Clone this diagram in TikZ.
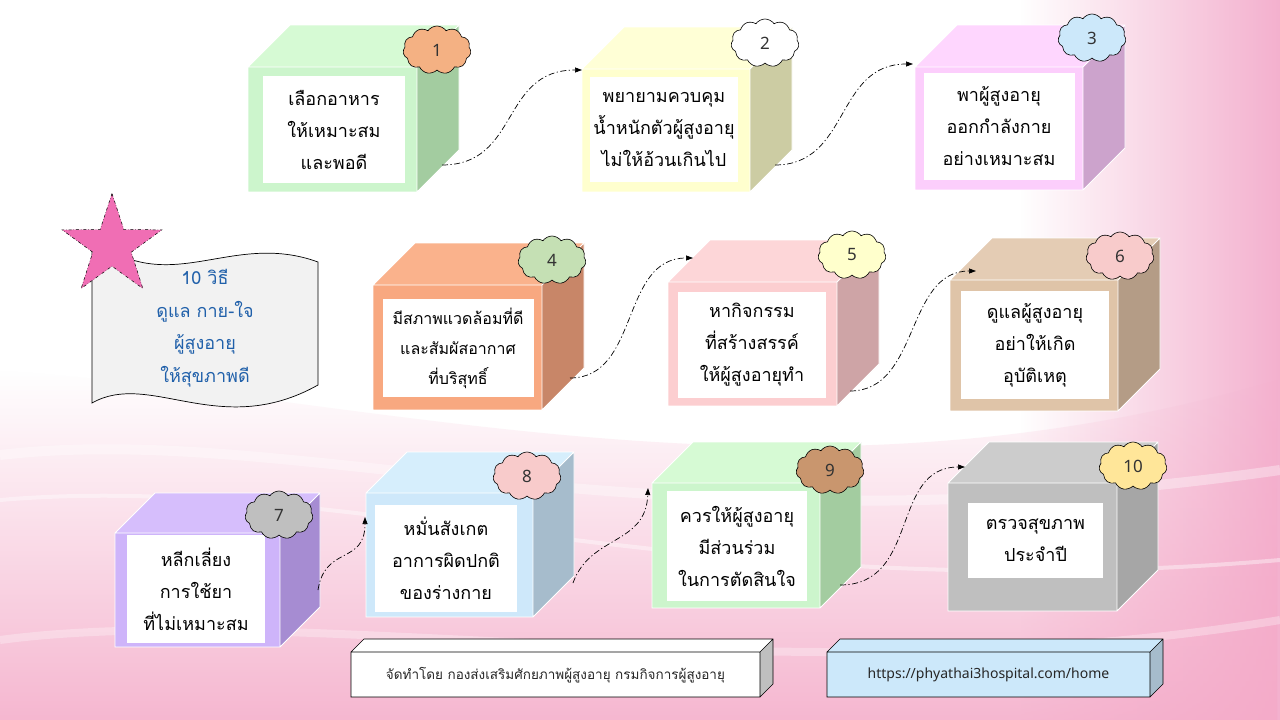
\documentclass[tikz,border=0pt]{standalone}
\usepackage{fontspec}
\newfontfamily\thai[Script=Thai]{Loma}
\newfontfamily\numf{Noto Sans}
\usetikzlibrary{shapes.symbols,shapes.geometric,arrows.meta,fadings}
\definecolor{bgpink}{RGB}{244,170,200}
\definecolor{bgpinkb}{RGB}{240,150,190}
\definecolor{gF}{RGB}{204,245,204}\definecolor{gT}{RGB}{214,250,212}\definecolor{gS}{RGB}{163,204,160}
\definecolor{yF}{RGB}{255,255,206}\definecolor{yT}{RGB}{255,255,214}\definecolor{yS}{RGB}{204,204,163}
\definecolor{mF}{RGB}{252,206,252}\definecolor{mT}{RGB}{254,214,254}\definecolor{mS}{RGB}{204,163,204}
\definecolor{oF}{RGB}{248,168,128}\definecolor{oT}{RGB}{250,178,140}\definecolor{oS}{RGB}{200,134,104}
\definecolor{pF}{RGB}{252,206,208}\definecolor{pT}{RGB}{253,214,216}\definecolor{pS}{RGB}{206,164,166}
\definecolor{tF}{RGB}{223,196,168}\definecolor{tT}{RGB}{228,204,180}\definecolor{tS}{RGB}{180,156,134}
\definecolor{vF}{RGB}{206,180,250}\definecolor{vT}{RGB}{214,190,252}\definecolor{vS}{RGB}{166,140,210}
\definecolor{lF}{RGB}{206,232,250}\definecolor{lT}{RGB}{214,238,252}\definecolor{lS}{RGB}{166,188,204}
\definecolor{kF}{RGB}{191,191,191}\definecolor{kT}{RGB}{204,204,204}\definecolor{kS}{RGB}{166,166,166}
\definecolor{c1}{RGB}{244,177,131}\definecolor{c3}{RGB}{204,232,250}\definecolor{c4}{RGB}{197,224,180}
\definecolor{c5}{RGB}{255,255,204}\definecolor{c6}{RGB}{248,203,203}\definecolor{c9}{RGB}{201,150,110}
\definecolor{c10}{RGB}{255,230,153}\definecolor{starpink}{RGB}{240,110,180}
\definecolor{bannerblue}{RGB}{32,96,170}\definecolor{barblue}{RGB}{204,232,250}
\newcommand\cubebox[8]{%
  \fill[#6] (#1,#2) rectangle ++(#3,#4);
  \fill[#7] (#1,#2) -- ++(#5,-#5) -- ++(#3,0) -- ++(-#5,#5) -- cycle;
  \fill[#8] (#1+#3,#2) -- ++(#5,-#5) -- ++(0,#4) -- ++(-#5,#5) -- cycle;
  \draw[cubeedge] (#1,#2) rectangle ++(#3,#4) (#1,#2) -- ++(#5,-#5) -- ++(#3,0) -- ++(0,#4) -- ++(-#5,#5) (#1+#3,#2) -- ++(#5,-#5);
}
\begin{document}
\begin{tikzpicture}[x=1pt,y=-1pt,
  cubeedge/.style={draw=white,line width=0.8pt},
  bartedge/.style={draw=black,line width=0.6pt},
  boxtext/.style={fill=white,align=center,inner sep=0pt,font=\thai\fontsize{18}{32}\selectfont},
  numcloud/.style={cloud,cloud puffs=11,cloud puff arc=110,aspect=1.4,draw=black,line width=0.6pt,
     minimum width=68pt,minimum height=48pt,inner sep=0pt,font=\numf\fontsize{17}{17}\selectfont,text=black!80},
  flowarrow/.style={dash pattern=on 6pt off 2.5pt on 1.2pt off 2.5pt,line width=0.7pt,-{Triangle[length=7pt,width=5pt]}}]
\useasboundingbox (0,0) rectangle (1280,720);
% background
\fill[white] (0,0) rectangle (1280,720);
\fill[bgpinkb,path fading=west,opacity=0.75] (1020,0) -- (1280,0) -- (1280,720) -- (1020,720) -- cycle;
\fill[bgpink,path fading=north,opacity=0.85] (0,370) .. controls (400,400) and (800,520) .. (1280,380) -- (1280,720) -- (0,720) -- cycle;
\draw[white,line width=10pt,opacity=0.35] (0,455) .. controls (300,420) and (650,560) .. (1280,470);
\draw[white,line width=4pt,opacity=0.4] (0,500) .. controls (350,470) and (700,610) .. (1280,560);
\draw[white,line width=8pt,opacity=0.3] (0,640) .. controls (300,600) and (800,700) .. (1280,620);
% banner
\draw[fill=black!5,line width=0.7pt] (92,238) .. controls (170,300) and (230,230) .. (318,262) -- (318,385)
   .. controls (220,440) and (150,370) .. (92,403) -- cycle;
\node[align=center,text=bannerblue,font=\thai\fontsize{18}{32.5}\selectfont] (title) at (205,328)
   {10 วิธี\\ดูแล กาย-ใจ\\ผู้สูงอายุ\\ให้สุขภาพดี};
\node[star,star points=5,star point ratio=2.6,minimum size=105pt,inner sep=0pt,fill=starpink,draw=black,dash dot,line width=0.5pt] (star) at (112,246) {};
% cubes row 1
\cubebox{248}{67}{169}{125}{42}{gF}{gT}{gS}
\cubebox{582}{69}{168}{123}{42}{yF}{yT}{yS}
\cubebox{915}{67}{168}{123}{42}{mF}{mT}{mS}
% row 2
\cubebox{373}{285}{169}{125}{42}{oF}{oT}{oS}
\cubebox{668}{282}{169}{124}{42}{pF}{pT}{pS}
\cubebox{950}{280}{168}{131}{42}{tF}{tT}{tS}
% row 3
\cubebox{115}{533}{165}{114}{40}{vF}{vT}{vS}
\cubebox{366}{493}{167}{124}{41}{lF}{lT}{lS}
\cubebox{652}{483}{168}{125}{41}{gF}{gT}{gS}
\cubebox{948}{483}{169}{128}{41}{kF}{kT}{kS}
% texts
\node[boxtext,minimum width=142pt,minimum height=107pt] (b1) at (334,129.5) {เลือกอาหาร\\ให้เหมาะสม\\และพอดี};
\node[boxtext,minimum width=148pt,minimum height=105pt] (b2) at (664,129.5) {พยายามควบคุม\\น้ำหนักตัวผู้สูงอายุ\\ไม่ให้อ้วนเกินไป};
\node[boxtext,minimum width=151pt,minimum height=107pt] (b3) at (999,126.5) {พาผู้สูงอายุ\\ออกกำลังกาย\\อย่างเหมาะสม};
\node[boxtext,minimum width=151pt,minimum height=98pt,font=\thai\fontsize{16}{30}\selectfont] (b4) at (458,348) {มีสภาพแวดล้อมที่ดี\\และสัมผัสอากาศ\\ที่บริสุทธิ์};
\node[boxtext,minimum width=148pt,minimum height=106pt] (b5) at (752,345) {หากิจกรรม\\ที่สร้างสรรค์\\ให้ผู้สูงอายุทำ};
\node[boxtext,minimum width=148pt,minimum height=108pt] (b6) at (1035,345) {ดูแลผู้สูงอายุ\\อย่าให้เกิด\\อุบัติเหตุ};
\node[boxtext,minimum width=138pt,minimum height=108pt] (b7) at (196,589) {หลีกเลี่ยง\\การใช้ยา\\ที่ไม่เหมาะสม};
\node[boxtext,minimum width=142pt,minimum height=107pt] (b8) at (446,558.5) {หมั่นสังเกต\\อาการผิดปกติ\\ของร่างกาย};
\node[boxtext,minimum width=140pt,minimum height=110pt] (b9) at (737,546) {ควรให้ผู้สูงอายุ\\มีส่วนร่วม\\ในการตัดสินใจ};
\node[boxtext,minimum width=135pt,minimum height=75pt] (b10) at (1035.5,540) {ตรวจสุขภาพ\\ประจำปี};
% clouds
\node[numcloud,fill=c1] (n1) at (437,50) {1};
\node[numcloud,fill=white] (n2) at (765,43) {2};
\node[numcloud,fill=c3] (n3) at (1092,38) {3};
\node[numcloud,fill=c4] (n4) at (552,260) {4};
\node[numcloud,fill=c5] (n5) at (852,255) {5};
\node[numcloud,fill=c6] (n6) at (1120,256) {6};
\node[numcloud,fill=kF] (n7) at (279,515) {7};
\node[numcloud,fill=c6] (n8) at (527,476) {8};
\node[numcloud,fill=c9] (n9) at (830,470) {9};
\node[numcloud,fill=c10] (n10) at (1133,466) {10};
% arrows
\coordinate (a1s) at (442,165); \coordinate (a1e) at (582,70);
\coordinate (a2s) at (775,165); \coordinate (a2e) at (913,64);
\coordinate (a3s) at (570,378); \coordinate (a3e) at (693,258);
\coordinate (a4s) at (850,391); \coordinate (a4e) at (976,271);
\coordinate (a5s) at (318,590); \coordinate (a5e) at (365,517);
\coordinate (a6s) at (573,583); \coordinate (a6e) at (648,488);
\coordinate (a7s) at (840,585); \coordinate (a7e) at (965,467);
\draw[flowarrow] (a1s) .. controls (520,165) and (500,70) .. (a1e);
\draw[flowarrow] (a2s) .. controls (850,165) and (835,64) .. (a2e);
\draw[flowarrow] (a3s) .. controls (640,378) and (620,258) .. (a3e);
\draw[flowarrow] (a4s) .. controls (920,391) and (905,271) .. (a4e);
\draw[flowarrow] (a5s) .. controls (325,545) and (365,565) .. (a5e);
\draw[flowarrow] (a6s) .. controls (590,535) and (646,545) .. (a6e);
\draw[flowarrow] (a7s) .. controls (920,585) and (890,467) .. (a7e);
% bottom bars
\fill[white] (351,652) rectangle (760,697);
\fill[white] (351,652) -- (364,639) -- (773,639) -- (760,652) -- cycle;
\fill[black!25] (760,652) -- (773,639) -- (773,684) -- (760,697) -- cycle;
\draw[bartedge] (351,652) rectangle (760,697) (351,652) -- (364,639) -- (773,639) -- (773,684) -- (760,697) (760,652) -- (773,639);
\node[font=\thai\fontsize{13.5}{15}\selectfont,text=black!85] (credit) at (555.5,675) {จัดทำโดย กองส่งเสริมศักยภาพผู้สูงอายุ กรมกิจการผู้สูงอายุ};
\fill[barblue] (827,652) rectangle (1150,697);
\fill[barblue] (827,652) -- (840,639) -- (1163,639) -- (1150,652) -- cycle;
\fill[lS] (1150,652) -- (1163,639) -- (1163,684) -- (1150,697) -- cycle;
\draw[bartedge] (827,652) rectangle (1150,697) (827,652) -- (840,639) -- (1163,639) -- (1163,684) -- (1150,697) (1150,652) -- (1163,639);
\node[font=\numf\fontsize{14}{15}\selectfont,text=black!85] (url) at (988.5,675) {https://phyathai3hospital.com/home};
\end{tikzpicture}
\end{document}
